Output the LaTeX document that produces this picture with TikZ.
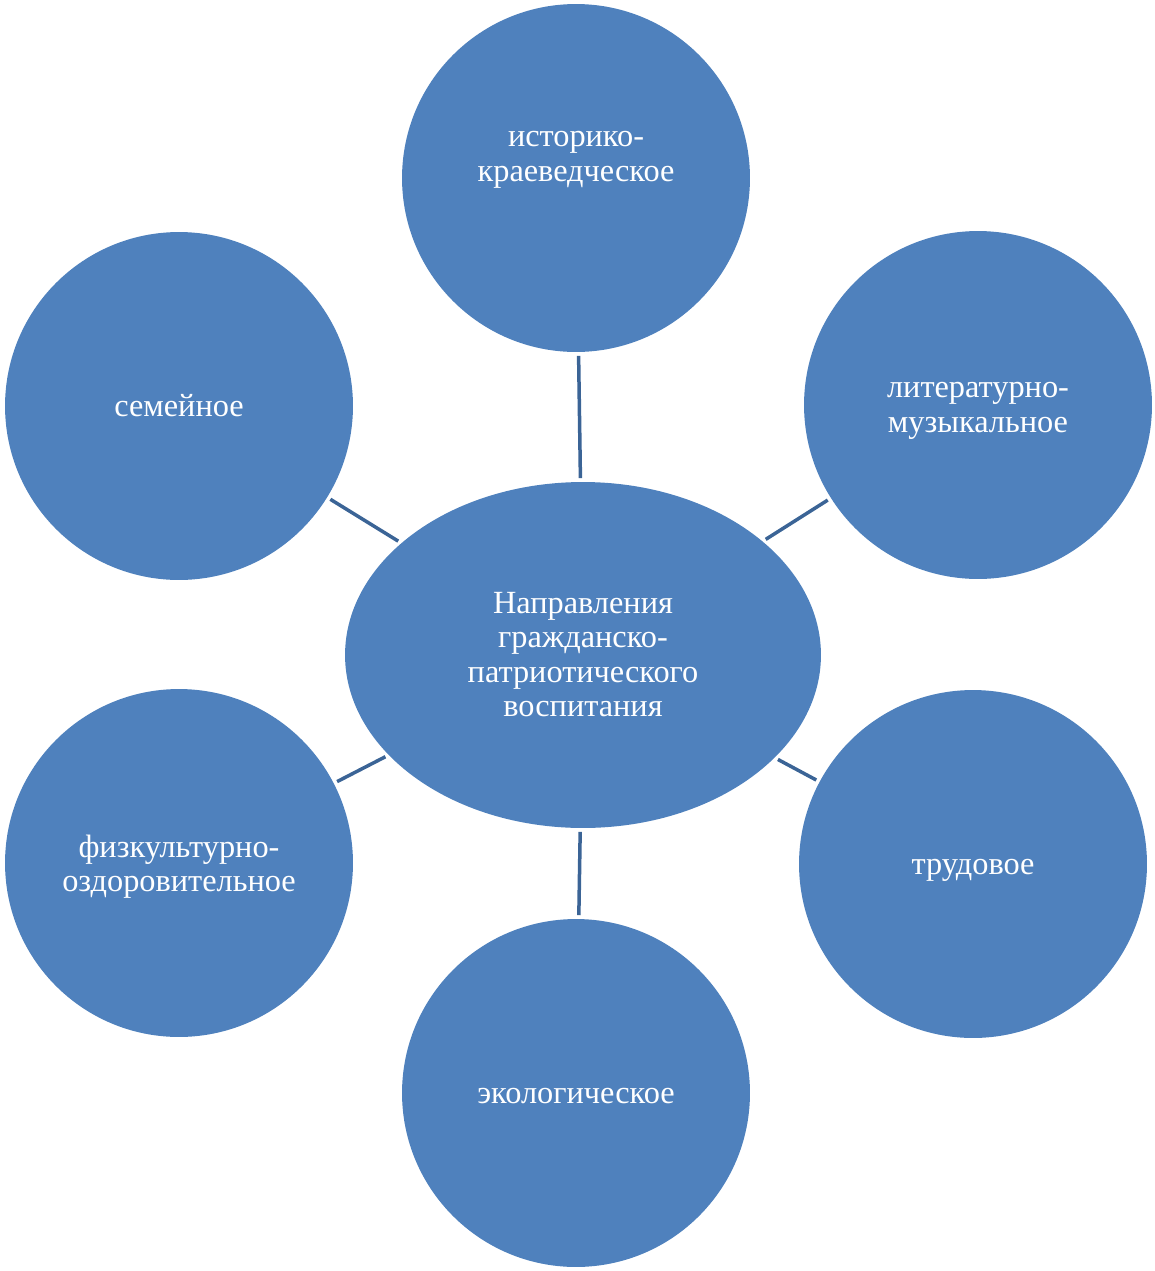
\documentclass[tikz,border=0pt]{standalone}
\usepackage{fontspec}
\setmainfont{Liberation Serif}
\usetikzlibrary{shapes.geometric}
\definecolor{blobfill}{HTML}{4F81BD}
\definecolor{linkcol}{HTML}{3B6496}

\begin{document}
\begin{tikzpicture}
      [x=0.02cm, y=-0.02cm,
       words/.style={text=white, align=center, font=\fontsize{18.4}{19.6}\selectfont,
                     execute at begin node=\rule{0pt}{0.891em},
                     execute at end node=\rule[-0.216em]{0pt}{0pt}},
       blob/.style={words, circle, fill=blobfill, minimum size=6.96cm, inner sep=0pt},
       hub/.style={ellipse, fill=blobfill, minimum width=9.52cm, minimum height=6.92cm,
                   inner sep=0pt},
       link/.style={draw=linkcol, line width=0.07cm, shorten <=0.07cm, shorten >=0.07cm}]
      \useasboundingbox (0,0) rectangle (1155,1271);

      \node [hub]  (hub)    at (583, 655) {};
      \node [blob] (hist)   at (576, 178) {};
      \node [blob] (lit)    at (978, 405) {};
      \node [blob] (fam)    at (179, 406) {семейное};
      \node [blob] (sport)  at (179, 863) {};
      \node [blob] (work)   at (973, 864) {трудовое};
      \node [blob] (eco)    at (576, 1093) {экологическое};

      % two-line texts sit on their own
      \node [words] (hublbl)   at (583, 658) {Направления\\гражданско-\\патриотического\\воспитания};
      \node [words] (histlbl)  at (576, 160) {историко-\\краеведческое};
      \node [words] (litlbl)   at (978, 411) {литературно-\\музыкальное};
      \node [words] (sportlbl) at (179, 867) {физкультурно-\\оздоровительное};

      \draw [link] (hist)  to (hub);
      \draw [link] (lit)   to (hub);
      \draw [link] (fam)   to (hub);
      \draw [link] (sport) to (hub);
      \draw [link] (work)  to (hub);
      \draw [link] (eco)   to (hub);
\end{tikzpicture}
\end{document}
